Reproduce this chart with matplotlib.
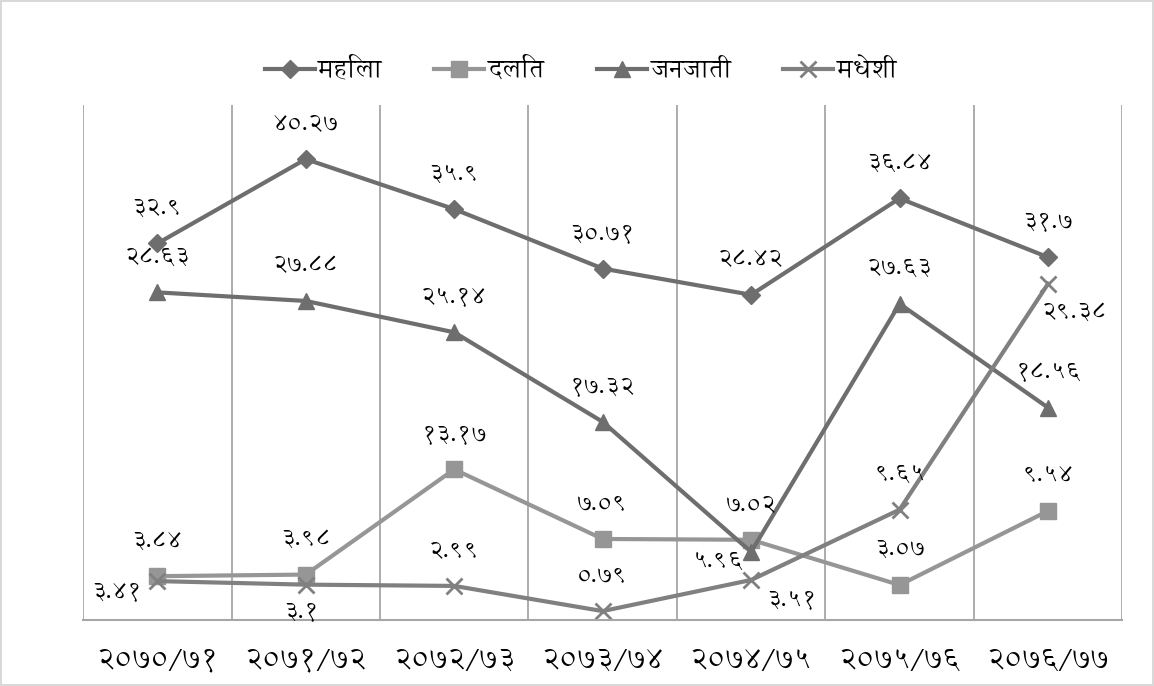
import matplotlib
matplotlib.use('Agg')
import matplotlib.pyplot as plt
from matplotlib import font_manager

# data
years = ['२०७०/७१', '२०७१/७२', '२०७२/७३', '२०७३/७४', '२०७४/७५', '२०७५/७६', '२०७६/७७']
mahila = [32.9, 40.27, 35.9, 30.71, 28.42, 36.84, 31.7]
dalit = [3.84, 3.98, 13.17, 7.09, 7.02, 3.07, 9.54]
janajati = [28.63, 27.88, 25.14, 17.32, 5.96, 27.63, 18.56]
madheshi = [3.41, 3.1, 2.99, 0.79, 3.51, 9.65, 29.38]
mahila_lbl = ['३२.९', '४०.२७', '३५.९', '३०.७१', '२८.४२', '३६.८४', '३१.७']
dalit_lbl = ['३.८४', '३.९८', '१३.१७', '७.०९', '७.०२', '३.०७', '९.५४']
janajati_lbl = ['२८.६३', '२७.८८', '२५.१४', '१७.३२', '५.९६', '२७.६३', '१८.५६']
madheshi_lbl = ['३.४१', '३.१', '२.९९', '०.७९', '३.५१', '९.६५', '२९.३८']

# a thin Devanagari font close to Mangal, whichever is installed
installed = {f.name for f in font_manager.fontManager.ttflist}
deva = None
for name in ['Annapurna SIL', 'Noto Sans Devanagari', 'Hind', 'FreeSans']:
    if name in installed:
        deva = name
        break
plt.rcParams['font.family'] = [deva, 'DejaVu Sans'] if deva else ['DejaVu Sans']

fig = plt.figure(figsize=(11.54, 6.86), dpi=100)
fig.patch.set_edgecolor('#d9d9d9')
fig.patch.set_linewidth(1.5)
ax = fig.add_axes([0.072, 0.096, 0.9005, 0.751])

x = list(range(len(years)))
ax.plot(x, mahila, color='#6e6e6e', lw=3, marker='D', ms=9, label='महिला')
ax.plot(x, dalit, color='#969696', lw=3, marker='s', ms=11, label='दलित')
ax.plot(x, janajati, color='#6e6e6e', lw=3, marker='^', ms=12, label='जनजाती')
ax.plot(x, madheshi, color='#808080', lw=3, marker='x', ms=11, mew=2, label='मधेशी')

ax.set_xlim(-0.5, 6.5)
ax.set_ylim(0, 45)
ax.set_yticks([])
ax.set_xticks(x)
ax.set_xticklabels(years, fontsize=22)
ax.tick_params(axis='x', length=0, pad=19)
for s in ['left', 'right', 'top']:
    ax.spines[s].set_visible(False)
ax.spines['bottom'].set_color('#a6a6a6')
ax.spines['bottom'].set_linewidth(1.5)
for b in range(len(years) + 1):
    ax.axvline(b - 0.5, color='#a6a6a6', lw=1.3, zorder=0)

# label offsets in points (default: above the marker)
up = (0, 25)
off_mahila = [up] * 7
off_dalit = [up] * 7
off_jana = [up] * 7
off_jana[4] = (-24, -7)
off_madh = [up] * 7
off_madh[0] = (-29, -8)
off_madh[1] = (-3, -20)
off_madh[4] = (29, -15)
off_madh[6] = (19, -21)

for vals, lbls, offs in [(mahila, mahila_lbl, off_mahila), (dalit, dalit_lbl, off_dalit),
                         (janajati, janajati_lbl, off_jana), (madheshi, madheshi_lbl, off_madh)]:
    for xi, v, t, o in zip(x, vals, lbls, offs):
        ax.annotate(t, (xi, v), xytext=o, textcoords='offset points',
                    ha='center', va='center', fontsize=18, color='black')

fig.legend(loc='center', bbox_to_anchor=(0.503, 0.897), ncol=4, frameon=False,
           fontsize=19, handlelength=1.9, handletextpad=0.1, columnspacing=2.0)

fig.savefig('out.png', dpi=100)
